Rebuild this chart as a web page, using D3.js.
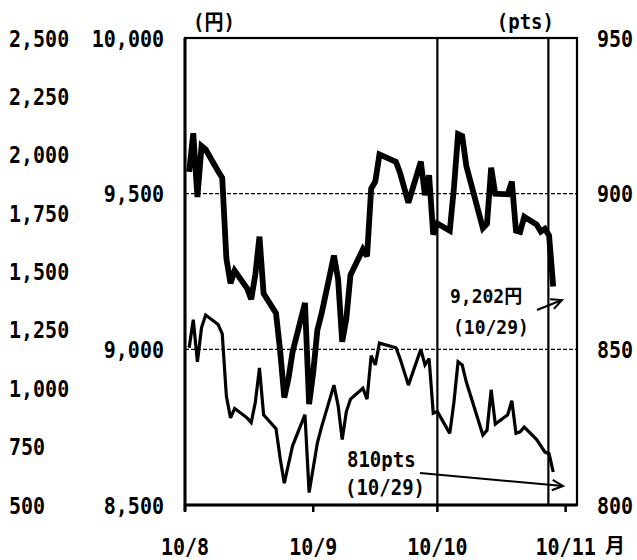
<!DOCTYPE html>
<html><head><meta charset="utf-8">
<script src="https://cdn.jsdelivr.net/npm/d3@7"></script>
<style>body{margin:0;background:#fff} svg{display:block}</style>
</head><body>
<svg id="c" width="637" height="560"></svg>
<script>
// ---- data ----
const tradingDays = [
  "2010-08-02","2010-08-03","2010-08-04","2010-08-05","2010-08-06","2010-08-09","2010-08-10","2010-08-11","2010-08-12","2010-08-13",
  "2010-08-16","2010-08-17","2010-08-18","2010-08-19","2010-08-20","2010-08-23","2010-08-24","2010-08-25","2010-08-26","2010-08-27",
  "2010-08-30","2010-08-31",
  "2010-09-01","2010-09-02","2010-09-03","2010-09-06","2010-09-07","2010-09-08","2010-09-09","2010-09-10","2010-09-13","2010-09-14",
  "2010-09-15","2010-09-16","2010-09-17","2010-09-21","2010-09-22","2010-09-24","2010-09-27","2010-09-28","2010-09-29","2010-09-30",
  "2010-10-01","2010-10-04","2010-10-05","2010-10-06","2010-10-07","2010-10-08","2010-10-12","2010-10-13","2010-10-14","2010-10-15",
  "2010-10-18","2010-10-19","2010-10-20","2010-10-21","2010-10-22","2010-10-25","2010-10-26","2010-10-27","2010-10-28","2010-10-29"
];
const nikkeiYen = [
  9570,9694,9489,9653,9642,9572,9551,9292,9212,9253,
  9196,9161,9240,9362,9179,9116,8995,8845,8906,8991,
  9149,8824,
  8927,9062,9114,9301,9226,9024,9099,9239,9321,9299,
  9516,9539,9626,9602,9566,9471,9603,9495,9559,9369,
  9404,9381,9518,9691,9685,9589,9389,9403,9583,9500,
  9498,9539,9381,9377,9426,9401,9378,9387,9366,9202
];
const topixPts = [
  850.5,859.5,846,857,861,858,855,835,828,831,
  828,826.5,833,844,829,824.5,815,807,813,819,
  829,804,
  812,820,825,838.5,832,821,830,834,837.5,834,
  848,845,852,850.5,847,838.5,850,845,847,829.5,
  830,823,833,846,845,839.5,822.5,824,837,826,
  829,833.5,823,823.5,825,821,819,817,816.5,810.6
];
const leftTicks = [500,750,1000,1250,1500,1750,2000,2250,2500];
const midTicks = [8500,9000,9500,10000];
const rightTicks = [800,850,900,950];
const gridYen = [9000,9500];
const monthTicks = ["2010-08-01","2010-09-01","2010-10-01","2010-11-01"];
const monthLabels = ["10/8","10/9","10/10","10/11"];
const xDomain = [new Date(2010,7,1), new Date(2010,10,3,18)];
const markerDate = new Date(2010,9,27,20);
const solidVLines = [new Date(2010,9,1), markerDate];

// ---- layout ----
const L = 185, R = 577, T = 38, B = 505;
const svg = d3.select("#c");
const FONT = "'DejaVu Sans Mono','Noto Sans CJK JP',monospace";
const parse = d3.timeParse("%Y-%m-%d");
const days = tradingDays.map(parse);

const x = d3.scaleTime().domain(xDomain).range([L, R]);
const yLeft = d3.scaleLinear().domain([500,2500]).range([B, T]);
const yYen = d3.scaleLinear().domain([8500,10000]).range([B, T]);
const yPts = d3.scaleLinear().domain([800,950]).range([B, T]);
const fmt = d3.format(",");

function label(xx, yy, str, anchor, size=20, sy=1.15, weight="bold") {
  return svg.append("text")
    .attr("transform", `translate(${xx},${yy}) scale(1,${sy})`)
    .attr("text-anchor", anchor)
    .attr("font-family", FONT)
    .attr("font-size", size)
    .attr("font-weight", weight)
    .attr("fill", "#000")
    .text(str);
}

// grid
svg.append("g").selectAll("line").data(gridYen).join("line")
  .attr("x1", L).attr("x2", R)
  .attr("y1", d => yYen(d)).attr("y2", d => yYen(d))
  .attr("stroke", "#000").attr("stroke-width", 1.3).attr("stroke-dasharray", "4,2");

// vertical solid lines
svg.append("g").selectAll("line").data(solidVLines).join("line")
  .attr("x1", d => x(d)).attr("x2", d => x(d))
  .attr("y1", T).attr("y2", B)
  .attr("stroke", "#000").attr("stroke-width", 2.2);

// frame
svg.append("rect").attr("x", L).attr("y", T).attr("width", R - L).attr("height", B - T)
  .attr("fill", "none").attr("stroke", "#000").attr("stroke-width", 2.2);
svg.append("line").attr("x1", L).attr("x2", L).attr("y1", T).attr("y2", B + 6)
  .attr("stroke", "#000").attr("stroke-width", 3);
svg.append("line").attr("x1", L).attr("x2", R).attr("y1", B).attr("y2", B)
  .attr("stroke", "#000").attr("stroke-width", 3);

// month ticks
svg.append("g").selectAll("line").data(monthTicks.map(parse)).join("line")
  .attr("x1", d => x(d)).attr("x2", d => x(d))
  .attr("y1", B).attr("y2", B + 7)
  .attr("stroke", "#000").attr("stroke-width", 2.5);

// lines
const lineYen = d3.line().x((d, i) => x(days[i])).y(d => yYen(d));
const linePts = d3.line().x((d, i) => x(days[i])).y(d => yPts(d));
svg.append("path").datum(topixPts).attr("d", linePts)
  .attr("fill", "none").attr("stroke", "#000").attr("stroke-width", 3.2)
  .attr("stroke-linejoin", "miter").attr("stroke-miterlimit", 3);
svg.append("path").datum(nikkeiYen).attr("d", lineYen)
  .attr("fill", "none").attr("stroke", "#000").attr("stroke-width", 5.8)
  .attr("stroke-linejoin", "miter").attr("stroke-miterlimit", 3);

// axis labels
leftTicks.forEach(v => label(9, yLeft(v) + 8.5, fmt(v), "start"));
midTicks.forEach(v => label(164, yYen(v) + 8.5, fmt(v), "end"));
rightTicks.forEach(v => label(597, yPts(v) + 8.5, fmt(v), "start"));
label(193, 29, "(円)", "start", 19, 1.1);
label(554, 29, "(pts)", "end", 19, 1.1);

// month labels
monthTicks.map(parse).forEach((d, i) => label(x(d), 555, monthLabels[i], "middle"));
svg.append("text").attr("x", 605).attr("y", 553)
  .attr("font-family", "'Noto Sans CJK JP',sans-serif").attr("font-size", 20)
  .attr("font-weight", "bold").text("月");

// annotations
label(450, 303, "9,202円", "start", 18, 1.1);
label(453, 334, "(10/29)", "start", 18, 1.1);
label(347, 467, "810pts", "start", 19, 1.1);
label(345, 495, "(10/29)", "start", 19, 1.1);

function arrow(x1, y1, x2, y2) {
  svg.append("line").attr("x1", x1).attr("y1", y1).attr("x2", x2).attr("y2", y2)
    .attr("stroke", "#000").attr("stroke-width", 2);
  const a = Math.atan2(y2 - y1, x2 - x1), h = 12, s = 0.45;
  const p = [[x2 - h * Math.cos(a - s), y2 - h * Math.sin(a - s)], [x2, y2], [x2 - h * Math.cos(a + s), y2 - h * Math.sin(a + s)]];
  svg.append("path").attr("d", d3.line()(p)).attr("fill", "none").attr("stroke", "#000").attr("stroke-width", 2);
}
arrow(537, 310, 562, 300);
arrow(420, 473, 563, 486);
</script>
</body></html>
